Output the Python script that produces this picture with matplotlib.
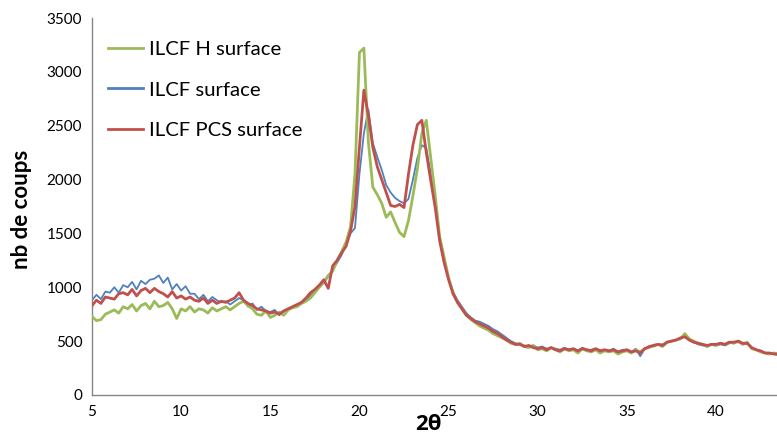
import numpy as np
import matplotlib
matplotlib.use("Agg")
import matplotlib.pyplot as plt

plt.rcParams['font.family'] = ['Lato', 'DejaVu Sans']

# 2-theta grid (degrees), step 0.25 from 5 to 43.5
two_theta = [5 + 0.25 * i for i in range(155)]

ilcf_h_surface = [
    730, 690, 700, 750,   770, 790, 760, 820,   800, 840, 780, 830,   850, 800, 870, 820,
    830, 860, 800, 710,   800, 780, 820, 770,   800, 790, 760, 810,   780, 800, 820, 790,
    820, 850, 870, 830,   800, 750, 740, 780,   720, 740, 770, 740,   790, 810, 820, 850,
    870, 900, 950, 1000,  1050, 1110, 1150, 1250, 1330, 1420, 1560, 2050, 3180, 3220, 2350, 1930,
    1860, 1780, 1650, 1700, 1600, 1510, 1470, 1620, 1850, 2100, 2430, 2550, 2200, 1850, 1470, 1280,
    1090, 950, 860, 800,  740, 700, 670, 640,   620, 600, 570, 550,   530, 510, 480, 470,
    480, 450, 440, 460,   420, 430, 410, 440,   420, 400, 430, 410,   420, 390, 430, 410,
    400, 420, 390, 410,   400, 410, 380, 400,   410, 390, 420, 400,   430, 440, 460, 470,
    450, 490, 500, 510,   520, 570, 520, 500,   480, 470, 450, 470,   460, 480, 470, 490,
    480, 500, 470, 490,   430, 420, 400, 390,   380, 390, 380,
]

ilcf_surface = [
    880, 930, 890, 960,   950, 1000, 950, 1020,  1000, 1050, 980, 1060,  1030, 1070, 1080, 1110,
    1040, 1090, 980, 1030, 970, 1010, 940, 940,  890, 930, 870, 910,    880, 860, 870, 840,
    870, 900, 880, 820,   850, 790, 820, 780,   770, 790, 740, 780,    800, 810, 830, 850,
    880, 930, 970, 1000,  1040, 1100, 1160, 1230, 1300, 1400, 1500, 1550, 2050, 2430, 2650, 2340,
    2210, 2090, 1950, 1880, 1830, 1800, 1780, 1820, 2000, 2200, 2320, 2290, 2050, 1760, 1450, 1230,
    1080, 960, 880, 820,  760, 720, 690, 680,   660, 640, 610, 590,    560, 530, 500, 480,
    470, 460, 450, 460,   440, 450, 430, 440,   430, 420, 440, 420,    430, 410, 440, 420,
    420, 430, 410, 420,   410, 430, 400, 420,   420, 400, 430, 360,    430, 450, 450, 470,
    470, 490, 500, 510,   520, 550, 520, 490,   470, 460, 450, 470,    460, 470, 460, 480,
    490, 490, 470, 480,   440, 420, 410, 390,   390, 380, 370,
]

ilcf_pcs_surface = [
    830, 880, 850, 910,   900, 890, 940, 950,   930, 980, 920, 970,   990, 950, 990, 960,
    940, 910, 960, 900,   920, 890, 910, 880,   870, 900, 850, 880,   850, 870, 860, 880,
    900, 950, 880, 850,   830, 800, 790, 780,   760, 770, 750, 780,   800, 820, 840, 860,
    900, 950, 980, 1020,  1070, 990, 1200, 1250, 1320, 1380, 1520, 1750, 2300, 2830, 2600, 2300,
    2120, 2000, 1880, 1760, 1750, 1770, 1740, 2050, 2320, 2510, 2550, 2250, 1990, 1740, 1430, 1230,
    1070, 940, 860, 800,  740, 710, 680, 660,   640, 620, 590, 570,   540, 510, 490, 470,
    470, 450, 460, 440,   430, 440, 420, 440,   420, 410, 430, 420,   430, 410, 430, 420,
    410, 430, 410, 420,   410, 420, 400, 410,   420, 400, 410, 390,   430, 450, 460, 470,
    460, 490, 500, 510,   530, 540, 510, 490,   480, 470, 460, 470,   470, 480, 470, 490,
    490, 500, 480, 480,   440, 420, 410, 390,   390, 380, 380,
]

series_labels = ["ILCF H surface", "ILCF surface", "ILCF PCS surface"]
colors = ["#9BBB59", "#4F81BD", "#C0504D"]
x_ticks = [5, 10, 15, 20, 25, 30, 35, 40]
y_ticks = [0, 500, 1000, 1500, 2000, 2500, 3000, 3500]

fig = plt.figure(figsize=(7.77, 4.34), dpi=100)
ax = fig.add_axes([92 / 777, 39 / 434, 1 - 92 / 777, (395 - 18) / 434])

lg, = ax.plot(two_theta, ilcf_h_surface, color=colors[0], lw=2.0, zorder=3, label=series_labels[0])
lb, = ax.plot(two_theta, ilcf_surface, color=colors[1], lw=1.3, zorder=2, label=series_labels[1])
lr, = ax.plot(two_theta, ilcf_pcs_surface, color=colors[2], lw=2.0, zorder=4, label=series_labels[2])

ax.set_xlim(5, 43.42)
ax.set_ylim(0, 3500)
ax.set_xticks(x_ticks)
ax.set_yticks(y_ticks)
ax.tick_params(length=0, labelsize=11, colors="#000000", pad=7)
for s in ["top", "right"]:
    ax.spines[s].set_visible(False)
for s in ["left", "bottom"]:
    ax.spines[s].set_color("#868686")
    ax.spines[s].set_linewidth(1.0)

fig.text(428 / 777, 1 - 424 / 434, "2θ", ha="center", va="center", fontsize=16,
         fontweight="bold", family=["Open Sans", "DejaVu Sans"])
fig.text(22 / 777, 1 - 209 / 434, "nb de coups", ha="center", va="center", rotation=90,
         fontsize=16, fontweight="bold")

leg = ax.legend(handles=[lg, lb, lr], loc="upper left", bbox_to_anchor=(108 / 777, 1 - 41 / 434),
                bbox_transform=fig.transFigure, frameon=False, fontsize=14.6,
                handlelength=1.72, handletextpad=0.28, labelspacing=1.14, borderaxespad=0,
                borderpad=0)
for h in leg.get_lines():
    h.set_linewidth(2.0)

fig.savefig("out.png", dpi=100)
